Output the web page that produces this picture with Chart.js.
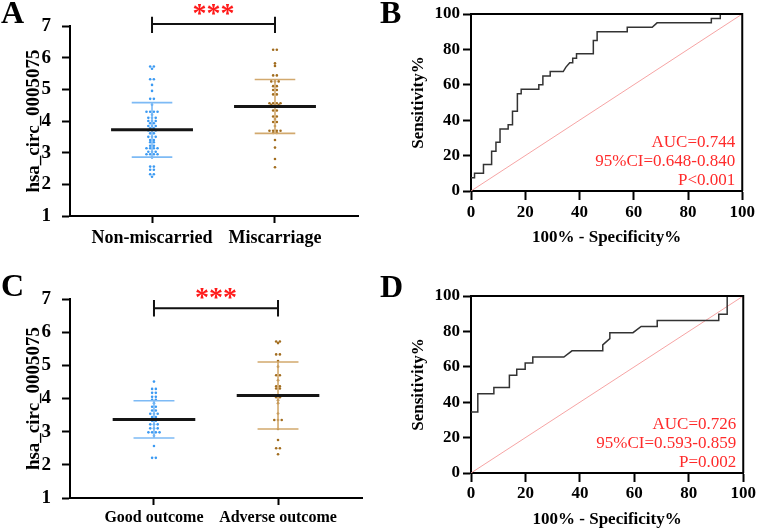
<!DOCTYPE html>
<html>
<head>
<meta charset="utf-8">
<script src="https://cdn.jsdelivr.net/npm/chart.js@4.4.1/dist/chart.umd.min.js"></script>
<style>
  html, body { margin: 0; padding: 0; background: #fff; }
  #wrap { position: relative; width: 759px; height: 528px; overflow: hidden; }
  canvas { position: absolute; }
</style>
</head>
<body>
<div id="wrap">
  <canvas id="panelA" width="380" height="264" style="left:0;top:0"></canvas>
  <canvas id="panelB" width="379" height="264" style="left:380px;top:0"></canvas>
  <canvas id="panelC" width="380" height="264" style="left:0;top:264px"></canvas>
  <canvas id="panelD" width="379" height="264" style="left:380px;top:264px"></canvas>
</div>
<script>
// ---- data ----
var catsA = ['Non-miscarried', 'Miscarriage'];
var nonMiscarried = [5.72, 5.72, 5.65, 5.32, 5.32, 5.14, 4.95, 4.70, 4.70, 4.51,
  4.29, 4.29, 4.29, 4.29, 4.20, 4.10, 4.10, 4.10, 4.00, 4.00, 4.00, 3.93, 3.93,
  3.84, 3.84, 3.84, 3.77, 3.77, 3.70, 3.70, 3.70, 3.61, 3.61, 3.50, 3.50, 3.50,
  3.40, 3.40, 3.33, 3.33, 3.22, 3.22, 3.14, 3.14, 3.14, 3.14, 3.03, 3.03, 3.03,
  2.95, 2.95, 2.95, 2.95, 2.85, 2.56, 2.56, 2.46, 2.46, 2.32, 2.32, 2.24];
var miscarriage = [6.25, 6.25, 5.82, 5.74, 5.44, 5.44, 5.25, 5.25, 5.25, 5.10, 5.10,
  4.98, 4.98, 4.84, 4.84, 4.56, 4.56, 4.56, 4.56, 4.50, 4.50, 4.50, 4.33, 4.33,
  4.14, 4.14, 4.06, 3.97, 3.97, 3.84, 3.69, 3.69, 3.69, 3.69, 3.62, 3.62, 3.40,
  3.16, 2.80, 2.54];
var meansA = [3.72, 4.46];
var sdsA = [0.86, 0.85];

var catsC = ['Good outcome', 'Adverse outcome'];
var goodOutcome = [4.51, 4.29, 4.29, 4.17, 4.17, 4.05, 4.05, 3.96, 3.96, 3.86,
  3.75, 3.75, 3.64, 3.64, 3.54, 3.54, 3.54, 3.44, 3.44, 3.33, 3.33, 3.22, 3.22,
  3.22, 3.10, 3.10, 3.10, 2.98, 2.98, 2.98, 2.98, 2.88, 2.57, 2.21, 2.21];
var adverseOutcome = [5.72, 5.72, 5.67, 5.33, 5.33, 5.13, 4.96, 4.70, 4.70, 4.55,
  4.37, 4.37, 4.30, 4.30, 4.10, 4.04, 4.04, 3.95, 3.86, 3.55, 3.35, 3.35, 3.35,
  3.08, 2.75, 2.50, 2.50, 2.32];
var meansC = [3.37, 4.09];
var sdsC = [0.56, 1.01];

var yTicksDot = [1, 2, 3, 4, 5, 6, 7];
var rocTicks = [0, 20, 40, 60, 80, 100];

// ROC B (100% - specificity, sensitivity)
var fprB = [0, 1.3, 1.3, 4.6, 4.6, 7.6, 7.6, 9.2, 9.2, 10.7, 10.7, 13.7, 13.7, 15.3,
  15.3, 17.1, 17.1, 18.5, 18.5, 25, 25, 26.5, 26.5, 29.2, 29.2, 34, 35, 36.4, 37.5,
  37.5, 38.9, 38.9, 45.1, 45.1, 46.5, 46.5, 57.6, 57.6, 66.8, 68.6, 88.6, 88.6,
  91.9, 91.9, 100];
var sensB = [7.5, 7.5, 10, 10, 15, 15, 22.5, 22.5, 27.5, 27.5, 35, 35, 37.5, 37.5,
  45, 45, 55, 55, 57.5, 57.5, 60, 60, 65, 65, 67.5, 67.5, 70, 72.5, 72.5,
  75, 75, 77.5, 77.5, 85, 85, 90, 90, 92.5, 92.5, 95, 95, 97.5,
  97.5, 100, 100];
var statsB = ['AUC=0.744', '95%CI=0.648-0.840', 'P<0.001'];

// ROC D
var fprD = [0, 2.5, 2.5, 8.4, 8.4, 14.1, 14.1, 16.8, 16.8, 19.9, 19.9, 22.7, 22.7,
  34.1, 37.1, 48.4, 48.4, 51, 51, 59.5, 62.5, 68.4, 68.4, 91, 91, 94.1, 94.1, 100];
var sensD = [34.5, 34.5, 44.8, 44.8, 48.3, 48.3, 55.2, 55.2, 58.6, 58.6, 62.1, 62.1, 65.5,
  65.5, 69, 69, 72.4, 75.9, 79.3, 79.3, 82.8, 82.8, 86.2, 86.2, 89.7, 89.7, 100, 100];
var statsD = ['AUC=0.726', '95%CI=0.593-0.859', 'P=0.002'];

// ---- drawing ----
var SERIF = '"Liberation Serif", "Times New Roman", serif';
var SPREAD = 0.03;   // horizontal step between tied dots, in category units

// lay tied values side by side around the category centre
function swarm(values, center) {
    var counts = {}, seen = {}, out = [];
    values.forEach(function (v) { counts[v] = (counts[v] || 0) + 1; });
    values.forEach(function (v) {
        var i = seen[v] = (seen[v] === undefined ? 0 : seen[v] + 1);
        out.push({x: center + (i - (counts[v] - 1) / 2) * SPREAD, y: v});
    });
    return out;
}

function letterPlugin(letter, x, y) {
    return {
        id: 'letter',
        afterDraw: function (chart) {
            var ctx = chart.ctx;
            ctx.save();
            ctx.font = 'bold 32px ' + SERIF;
            ctx.fillStyle = '#000';
            ctx.textBaseline = 'alphabetic';
            ctx.fillText(letter, x, y);
            ctx.restore();
        }
    };
}

function fixSize(prop, val) {
    return function (scale) { scale[prop] = val; };
}

function dotPlot(id, letter, letterY, cats, groups, means, sds, opt) {
    var dotColors = ['#3c9af2', '#a26d1f'];
    var sdColors = ['#7dbaf5', '#d2a96e'];
    var datasets = [];
    var i, c;
    for (i = 0; i < groups.length; i++) {
        c = i + 1;
        datasets.push({
            data: [{x: c - 0.333, y: means[i]}, {x: c + 0.333, y: means[i]}],
            showLine: true, borderColor: '#151515', borderWidth: 3, pointRadius: 0
        });
    }
    for (i = 0; i < groups.length; i++) {
        c = i + 1;
        var hi = means[i] + sds[i], lo = means[i] - sds[i];
        datasets.push({
            data: [{x: c, y: lo}, {x: c, y: hi}, {x: c, y: null},
                   {x: c - 0.165, y: hi}, {x: c + 0.165, y: hi}, {x: c, y: null},
                   {x: c - 0.165, y: lo}, {x: c + 0.165, y: lo}],
            showLine: true, borderColor: sdColors[i], borderWidth: 1.6, pointRadius: 0
        });
    }
    for (i = 0; i < groups.length; i++) {
        datasets.push({
            data: swarm(groups[i], i + 1),
            pointRadius: 1.3, pointBackgroundColor: dotColors[i], pointBorderWidth: 0
        });
    }
    var b = opt.bracket;
    datasets.push({
        data: [{x: 1, y: b[0]}, {x: 1, y: b[2]}, {x: 1, y: null},
               {x: 1, y: b[1]}, {x: 2, y: b[1]}, {x: 2, y: null},
               {x: 2, y: b[0]}, {x: 2, y: b[2]}],
        showLine: true, borderColor: '#111', borderWidth: 2, pointRadius: 0, clip: false
    });

    var stars = {
        id: 'stars',
        afterDraw: function (chart) {
            var ctx = chart.ctx;
            var x = chart.scales.x.getPixelForValue(1.5);
            var y = chart.scales.y.getPixelForValue(b[1]) - 2;
            ctx.save();
            ctx.font = 'bold 28px ' + SERIF;
            ctx.fillStyle = '#ff1a1a';
            ctx.textAlign = 'center';
            ctx.textBaseline = 'alphabetic';
            ctx.fillText('***', x, y);
            ctx.restore();
        }
    };

    return new Chart(document.getElementById(id), {
        type: 'scatter',
        data: {datasets: datasets},
        options: {
            responsive: false, animation: false, devicePixelRatio: 1,
            layout: {padding: {top: opt.top, right: opt.right, left: 0, bottom: 0}},
            plugins: {legend: {display: false}, tooltip: {enabled: false}},
            scales: {
                x: {
                    type: 'linear', min: opt.xMin, max: opt.xMax,
                    afterBuildTicks: function (scale) { scale.ticks = [{value: 1}, {value: 2}]; },
                    afterFit: fixSize('height', opt.xHeight),
                    ticks: {
                        padding: opt.xPad, color: '#000', maxRotation: 0, autoSkip: false,
                        font: {family: SERIF, size: opt.xFont, weight: 'bold', lineHeight: 1},
                        callback: function (v) { return cats[v - 1]; }
                    },
                    grid: {drawOnChartArea: false, tickLength: 7, tickWidth: 2, tickColor: '#000'},
                    border: {color: '#000', width: 2}
                },
                y: {
                    min: yTicksDot[0], max: yTicksDot[yTicksDot.length - 1],
                    afterBuildTicks: function (scale) {
                        scale.ticks = yTicksDot.map(function (v) { return {value: v}; });
                    },
                    afterFit: fixSize('width', 70),
                    ticks: {padding: 11, color: '#000',
                        font: {family: SERIF, size: 19, weight: 'bold', lineHeight: 1}},
                    grid: {drawOnChartArea: false, tickLength: 8, tickWidth: 2, tickColor: '#000'},
                    border: {color: '#000', width: 2},
                    title: {display: true, text: 'hsa_circ_0005075', color: '#000',
                        padding: {top: 25, bottom: 0},
                        font: {family: SERIF, size: 19, weight: 'bold', lineHeight: 1}}
                }
            }
        },
        plugins: [stars, letterPlugin(letter, 1, letterY)]
    });
}

function rocPlot(id, letter, letterY, fpr, sens, stats, opt) {
    var curve = fpr.map(function (f, i) { return {x: f, y: sens[i]}; });
    var textPlugin = {
        id: 'rocText',
        afterDraw: function (chart) {
            var a = chart.chartArea, ctx = chart.ctx;
            ctx.save();
            // top / right frame
            ctx.strokeStyle = '#000';
            ctx.lineWidth = 2;
            ctx.beginPath();
            ctx.moveTo(a.left, a.top);
            ctx.lineTo(a.right, a.top);
            ctx.lineTo(a.right, a.bottom);
            ctx.stroke();
            ctx.font = '17px ' + SERIF;
            ctx.fillStyle = '#ff2b2b';
            ctx.textAlign = 'right';
            ctx.textBaseline = 'middle';
            var offs = [48, 29, 10];
            stats.forEach(function (s, i) {
                ctx.fillText(s, a.right - 7, a.bottom - offs[i]);
            });
            ctx.restore();
        }
    };
    return new Chart(document.getElementById(id), {
        type: 'scatter',
        data: {
            datasets: [{
                data: curve, showLine: true, borderColor: '#333', borderWidth: 1.5,
                pointRadius: 0, clip: false
            }, {
                data: [{x: 0, y: 0}, {x: 100, y: 100}], showLine: true,
                borderColor: '#f59a9a', borderWidth: 0.9, pointRadius: 0
            }]
        },
        options: {
            responsive: false, animation: false, devicePixelRatio: 1,
            layout: {padding: {top: opt.top, right: 13, left: 0, bottom: 0}},
            plugins: {legend: {display: false}, tooltip: {enabled: false}},
            scales: {
                x: {
                    type: 'linear', min: 0, max: 100,
                    afterBuildTicks: function (scale) {
                        scale.ticks = rocTicks.map(function (v) { return {value: v}; });
                    },
                    afterFit: fixSize('height', opt.xHeight),
                    ticks: {padding: opt.xPad, color: '#000', maxRotation: 0, autoSkip: false,
                        font: {family: SERIF, size: 17, weight: 'bold', lineHeight: 1}},
                    grid: {drawOnChartArea: false, tickLength: 9, tickWidth: 2, tickColor: '#000'},
                    border: {color: '#000', width: 2},
                    title: {display: true, text: '100% - Specificity%', color: '#000',
                        padding: {top: 0, bottom: opt.titlePad},
                        font: {family: SERIF, size: 17, weight: 'bold', lineHeight: 1}}
                },
                y: {
                    min: 0, max: 100,
                    afterBuildTicks: function (scale) {
                        scale.ticks = rocTicks.map(function (v) { return {value: v}; });
                    },
                    afterFit: fixSize('width', 91),
                    ticks: {padding: 3, color: '#000',
                        font: {family: SERIF, size: 17, weight: 'bold', lineHeight: 1}},
                    grid: {drawOnChartArea: false, tickLength: 8, tickWidth: 2, tickColor: '#000'},
                    border: {color: '#000', width: 2},
                    title: {display: true, text: 'Sensitivity%', color: '#000',
                        padding: {top: 30, bottom: 0},
                        font: {family: SERIF, size: 17, weight: 'bold', lineHeight: 1}}
                }
            }
        },
        plugins: [textPlugin, letterPlugin(letter, 0, letterY)]
    });
}

dotPlot('panelA', 'A', 23, catsA, [nonMiscarried, miscarriage], meansA, sdsA,
    {top: 26, right: 22, xHeight: 48, xPad: 6, xFont: 18, xMin: 0.333, xMax: 2.675,
     bracket: [6.78, 7.06, 7.29]});
rocPlot('panelB', 'B', 23, fprB, sensB, statsB,
    {top: 14, xHeight: 73, xPad: 4, titlePad: 18});
dotPlot('panelC', 'C', 32, catsC, [goodOutcome, adverseOutcome], meansC, sdsC,
    {top: 35, right: 18, xHeight: 30, xPad: 5, xFont: 16, xMin: 0.323, xMax: 2.677,
     bracket: [6.47, 6.72, 6.97]});
rocPlot('panelD', 'D', 33, fprD, sensD, statsD,
    {top: 32, xHeight: 55, xPad: 3, titlePad: 0});
</script>
</body>
</html>
